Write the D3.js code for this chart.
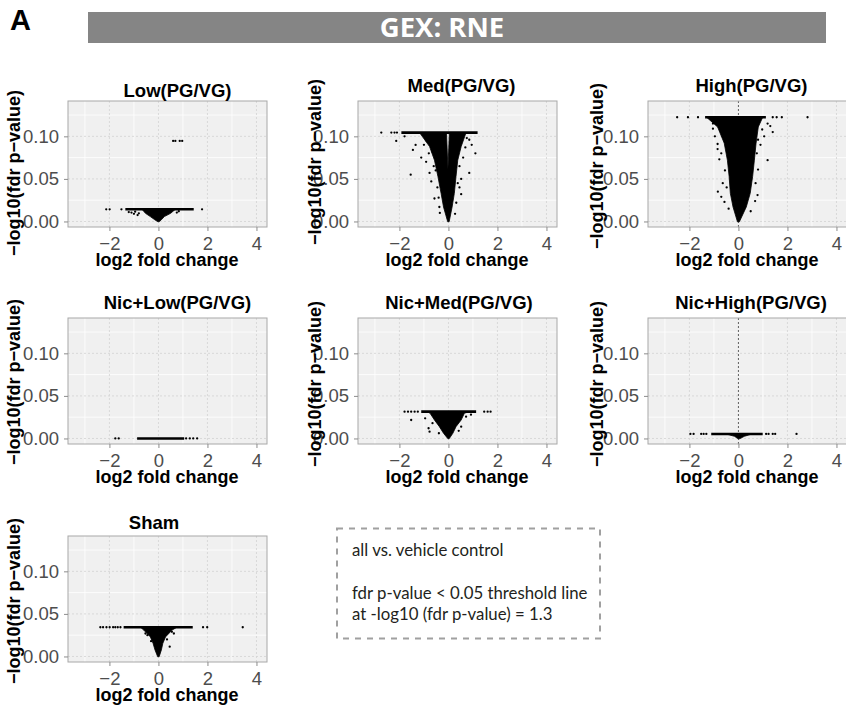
<!DOCTYPE html>
<html>
<head>
<meta charset="utf-8">
<script src="https://cdn.jsdelivr.net/npm/d3@7"></script>
<style>
  html, body { margin: 0; padding: 0; background: #fff; }
  svg { display: block; }
</style>
</head>
<body>
<svg id="fig" width="846" height="711"></svg>
<script>
// ---- data -------------------------------------------------------------
const panelTitles = ["Low(PG/VG)", "Med(PG/VG)", "High(PG/VG)",
                     "Nic+Low(PG/VG)", "Nic+Med(PG/VG)", "Nic+High(PG/VG)", "Sham"];
const xTicks = [-2, 0, 2, 4];
const yTicks = [0.00, 0.05, 0.10];
const xMinor = [-3, -1, 1, 3];
const yMinor = [0.025, 0.075, 0.125];

// -log10(fdr p) value shared by the saturated row of genes in each comparison
const ceilingY = [0.0143, 0.1044, 0.1224, 0.0, 0.0315, 0.0053, 0.0343];
// log2 FC span that the saturated row covers densely
const rowSpan = [[-1.35, 1.44], [-1.92, 1.19], [-1.36, 1.12], [-0.87, 1.05],
                 [-1.11, 1.13], [-1.11, 0.99], [-1.42, 1.40]];
// whether the comparison shows a reference line at log2 FC = 0
const zeroLine = [false, false, true, false, false, true, false];

// outlines of the dense gene clouds [log2 FC, -log10 fdr]
const cloudLow = [[-0.67, 0.0143], [-0.53, 0.0096], [-0.33, 0.0057], [-0.15, 0.002], [-0.02, -0.0003],
                  [0.03, -0.0003], [0.12, 0.002], [0.24, 0.0057], [0.5, 0.0096], [0.69, 0.0143]];
const cloudMed = [[-1.18, 0.1044], [-0.77, 0.088], [-0.57, 0.072], [-0.43, 0.053], [-0.30, 0.033],
                  [-0.20, 0.017], [-0.03, -0.0003], [0.03, -0.0003], [0.15, 0.017], [0.24, 0.033],
                  [0.31, 0.053], [0.38, 0.072], [0.52, 0.088], [0.72, 0.1044], [0.04, 0.1044],
                  [-0.02, 0.062], [-0.08, 0.1044]];
const cloudHigh = [[-1.3, 0.1224], [-0.85, 0.111], [-0.58, 0.092], [-0.45, 0.072], [-0.38, 0.053],
                   [-0.33, 0.033], [-0.22, 0.017], [-0.04, -0.0003], [0.04, -0.0003], [0.32, 0.017],
                   [0.48, 0.033], [0.58, 0.053], [0.65, 0.072], [0.72, 0.092], [0.81, 0.111],
                   [0.99, 0.1224]];
const cloudNicLow = [];
const cloudNicMed = [[-0.85, 0.0315], [-0.75, 0.0296], [-0.57, 0.0217], [-0.37, 0.0139], [-0.2, 0.0061],
                     [-0.02, -0.0003], [0.03, -0.0003], [0.18, 0.0061], [0.31, 0.0139], [0.52, 0.0217],
                     [0.65, 0.0296], [0.85, 0.0315]];
const cloudNicHigh = [[-0.5, 0.0053], [-0.16, 0.0025], [-0.01, -0.0003], [0.05, -0.0003],
                      [0.24, 0.0025], [0.55, 0.0053]];
const cloudSham = [[-0.73, 0.0343], [-0.6, 0.031], [-0.33, 0.023], [-0.22, 0.0155], [-0.14, 0.0077],
                   [-0.03, -0.0003], [0.03, -0.0003], [0.12, 0.0077], [0.18, 0.0155], [0.29, 0.023],
                   [0.56, 0.031], [0.75, 0.0343]];

// individual genes outside the dense clouds [log2 FC, -log10 fdr]
const pointsLow = [[-2.13, 0.0143], [-1.99, 0.0143], [-1.51, 0.0143], [1.78, 0.0143],
                   [-1.21, 0.011], [-1.1, 0.0105], [-0.95, 0.0115], [-0.8, 0.0096], [-0.85, 0.0075],
                   [-1.0, 0.009], [0.83, 0.012], [0.75, 0.0105],
                   [0.6, 0.0946], [0.69, 0.0946], [0.87, 0.0946], [0.97, 0.0946]];
const pointsMed = [[-2.74, 0.1044], [-2.33, 0.1044], [-2.2, 0.1044], [-2.1, 0.1044],
                   [-2.13, 0.0946], [-1.79, 0.1], [-1.34, 0.0899], [-1.45, 0.084], [-1.11, 0.075],
                   [-1.54, 0.055], [-0.91, 0.07], [-0.77, 0.057], [-0.7, 0.047], [-0.57, 0.027],
                   [-0.45, 0.04], [-0.37, 0.017], [-0.35, 0.01], [-1.0, 0.09], [-0.8, 0.08],
                   [-0.6, 0.065], [-0.9, 0.095], [-0.65, 0.082], [-0.52, 0.06], [-0.4, 0.028],
                   [0.85, 0.096], [0.95, 0.09], [0.69, 0.087], [1.1, 0.08],
                   [0.6, 0.075], [0.85, 0.057], [0.52, 0.05], [0.45, 0.04], [0.52, 0.032],
                   [0.27, 0.009], [0.75, 0.098], [0.45, 0.065], [0.38, 0.045], [0.32, 0.022]];
const pointsHigh = [[-2.5, 0.1224], [-2.06, 0.1224], [-1.65, 0.1224], [1.4, 0.1224], [1.56, 0.1224],
                    [1.77, 0.1224], [2.82, 0.1224],
                    [-1.04, 0.115], [-1.04, 0.109], [-0.96, 0.1], [-0.85, 0.091], [-0.85, 0.085],
                    [-0.78, 0.073], [-0.84, 0.035], [-0.7, 0.029], [-0.57, 0.023], [-0.64, 0.045],
                    [-0.7, 0.08], [-0.55, 0.06], [-0.48, 0.04], [-0.4, 0.015],
                    [1.19, 0.115], [1.3, 0.112], [0.97, 0.108], [1.4, 0.105], [1.05, 0.1],
                    [0.8, 0.096], [0.9, 0.09], [1.19, 0.072], [0.8, 0.061], [0.78, 0.031],
                    [0.68, 0.024], [0.75, 0.08], [0.7, 0.045], [0.5, 0.012]];
const pointsNicLow = [[-1.76, 0], [-1.62, 0], [1.13, 0], [1.28, 0], [1.42, 0], [1.58, 0]];
const pointsNicMed = [[-1.79, 0.0315], [-1.65, 0.0315], [-1.52, 0.0315], [-1.38, 0.0315],
                      [-1.25, 0.0315], [1.46, 0.0315], [1.6, 0.0315], [1.72, 0.0315],
                      [-1.52, 0.0217], [-0.95, 0.0237], [-0.81, 0.012], [-0.77, 0.008],
                      [-0.39, 0.0061], [0.72, 0.0256], [0.92, 0.028], [0.52, 0.0139],
                      [-0.65, 0.018], [0.42, 0.009]];
const pointsNicHigh = [[-1.96, 0.0053], [-1.83, 0.0053], [-1.52, 0.0053], [-1.42, 0.0053],
                       [-1.31, 0.0053], [1.13, 0.0053], [1.23, 0.0053], [1.4, 0.0053],
                       [1.5, 0.0053], [2.37, 0.0053]];
const pointsSham = [[-2.37, 0.0343], [-2.26, 0.0343], [-2.12, 0.0343], [-1.99, 0.0343],
                    [-1.85, 0.0343], [-1.76, 0.0343], [-1.66, 0.0343], [-1.55, 0.0343],
                    [1.82, 0.0343], [1.99, 0.0343], [3.44, 0.0343],
                    [0.46, 0.0115], [-0.53, 0.027], [0.63, 0.027], [0.55, 0.029],
                    [-0.45, 0.025], [0.35, 0.02], [-0.3, 0.018]];

const clouds = [cloudLow, cloudMed, cloudHigh, cloudNicLow, cloudNicMed, cloudNicHigh, cloudSham];
const points = [pointsLow, pointsMed, pointsHigh, pointsNicLow, pointsNicMed, pointsNicHigh, pointsSham];

const headerText = "GEX: RNE";
const noteLines = ["all vs. vehicle control", "", "fdr p-value < 0.05 threshold line",
                   "at -log10 (fdr p-value) = 1.3"];

// ---- layout -----------------------------------------------------------
const svg = d3.select("#fig");
const W = 199, H = 126;
const colLeft = [68, 358, 648];
const rowTop = [101, 318, 536];
const place = [
  {c: 0, r: 0, tx: 177.5, ty: 96.5, ax: 14,  ay: 173},
  {c: 1, r: 0, tx: 461.5, ty: 92,   ax: 315, ay: 162},
  {c: 2, r: 0, tx: 751.5, ty: 92,   ax: 597, ay: 166},
  {c: 0, r: 1, tx: 177.5, ty: 308.5, ax: 14,  ay: 382},
  {c: 1, r: 1, tx: 459,   ty: 308.5, ax: 315, ay: 384},
  {c: 2, r: 1, tx: 751,   ty: 308.5, ax: 597, ay: 384},
  {c: 0, r: 2, tx: 154,   ty: 528.5, ax: 14,  ay: 601}
];
const FONT = "'Liberation Sans', Arial, Helvetica, sans-serif";

const x = d3.scaleLinear().domain([-3.69, 4.43]).range([0, W]);
const y = d3.scaleLinear().domain([-0.0065, 0.1415]).range([H, 0]);
const minus = s => String(s).replace("-", "\u2212");

// panel letter
svg.append("text").attr("x", 10).attr("y", 30)
  .attr("font-family", FONT).attr("font-weight", 700).attr("font-size", 29)
  .attr("fill", "#000").text("A");

// header band
svg.append("rect").attr("x", 88).attr("y", 12).attr("width", 738).attr("height", 31)
  .attr("fill", "#858585");
svg.append("text").attr("x", 442).attr("y", 37).attr("text-anchor", "middle")
  .attr("font-family", "'Open Sans', sans-serif").attr("font-weight", 700)
  .attr("font-size", 27.5).attr("fill", "#fff").text(headerText);

panelTitles.forEach((title, i) => {
  const p = place[i];
  const left = colLeft[p.c], top = rowTop[p.r];
  const g = svg.append("g").attr("transform", `translate(${left},${top})`);

  // background and grid
  g.append("rect").attr("width", W).attr("height", H).attr("fill", "#F0F0F0");
  g.selectAll(".vminor").data(xMinor).join("line")
    .attr("x1", d => x(d)).attr("x2", d => x(d)).attr("y1", 0).attr("y2", H)
    .attr("stroke", "#fff").attr("stroke-width", 0.8);
  g.selectAll(".hminor").data(yMinor).join("line")
    .attr("y1", d => y(d)).attr("y2", d => y(d)).attr("x1", 0).attr("x2", W)
    .attr("stroke", "#fff").attr("stroke-width", 0.8);
  g.selectAll(".vmajor").data(xTicks).join("line")
    .attr("x1", d => x(d)).attr("x2", d => x(d)).attr("y1", 0).attr("y2", H)
    .attr("stroke", "#D6D6D6").attr("stroke-width", 0.9).attr("stroke-dasharray", "2,2");
  g.selectAll(".hmajor").data(yTicks).join("line")
    .attr("y1", d => y(d)).attr("y2", d => y(d)).attr("x1", 0).attr("x2", W)
    .attr("stroke", "#D6D6D6").attr("stroke-width", 0.9).attr("stroke-dasharray", "2,2");

  if (zeroLine[i]) {
    g.append("line").attr("x1", x(0)).attr("x2", x(0)).attr("y1", 0).attr("y2", H)
      .attr("stroke", "#444").attr("stroke-width", 0.8).attr("stroke-dasharray", "2,2");
  }

  // dense cloud
  if (clouds[i].length) {
    g.append("path")
      .attr("d", d3.line().x(d => x(d[0])).y(d => y(d[1]))(clouds[i]) + "Z")
      .attr("fill", "#000").attr("stroke", "#000").attr("stroke-width", 0.8);
  }
  // saturated row of genes
  g.append("line")
    .attr("x1", x(rowSpan[i][0])).attr("x2", x(rowSpan[i][1]))
    .attr("y1", y(ceilingY[i])).attr("y2", y(ceilingY[i]))
    .attr("stroke", "#000").attr("stroke-width", 2.6);
  // individual genes
  g.selectAll(".pt").data(points[i]).join("circle")
    .attr("cx", d => x(d[0])).attr("cy", d => y(d[1])).attr("r", 1.15).attr("fill", "#000");

  // border
  g.append("rect").attr("width", W).attr("height", H).attr("fill", "none")
    .attr("stroke", "#A8A8A8").attr("stroke-width", 1);

  // axes
  const ax = g.append("g").attr("transform", `translate(0,${H})`)
    .call(d3.axisBottom(x).tickValues(xTicks).tickSize(4).tickPadding(6).tickFormat(minus));
  const ay = g.append("g")
    .call(d3.axisLeft(y).tickValues(yTicks).tickSize(4).tickPadding(5).tickFormat(d3.format(".2f")));
  [ax, ay].forEach(a => {
    a.select(".domain").remove();
    a.selectAll(".tick line").attr("stroke", "#8C8C8C");
    a.selectAll(".tick text").attr("fill", "#4D4D4D")
      .attr("font-family", FONT).attr("font-size", 18.5);
  });

  // titles
  svg.append("text").attr("x", p.tx).attr("y", p.ty).attr("text-anchor", "middle")
    .attr("font-family", FONT).attr("font-weight", 700).attr("font-size", 18.5)
    .attr("fill", "#000").text(title);
  svg.append("text").attr("x", left + x(0.35)).attr("y", top + H + 39).attr("text-anchor", "middle")
    .attr("font-family", FONT).attr("font-weight", 700).attr("font-size", 18)
    .attr("fill", "#000").text("log2 fold change");
  svg.append("text")
    .attr("transform", `translate(${p.ax + 6},${p.ay}) rotate(-90)`)
    .attr("text-anchor", "middle")
    .attr("font-family", FONT).attr("font-weight", 700).attr("font-size", 18)
    .attr("fill", "#000").text("\u2212log10(fdr p\u2212value)");
});

// note box
svg.append("rect").attr("x", 337).attr("y", 528.5).attr("width", 263).attr("height", 110)
  .attr("fill", "none").attr("stroke", "#A0A0A0").attr("stroke-width", 2)
  .attr("stroke-dasharray", "6,6");
const noteY = [556, 577.5, 599.3, 620];
noteLines.forEach((t, k) => {
  if (!t) return;
  svg.append("text").attr("x", 352).attr("y", noteY[k])
    .attr("font-family", "Lato, 'Open Sans', sans-serif").attr("font-size", 16.8)
    .attr("fill", "#231F20").text(t);
});
</script>
</body>
</html>
